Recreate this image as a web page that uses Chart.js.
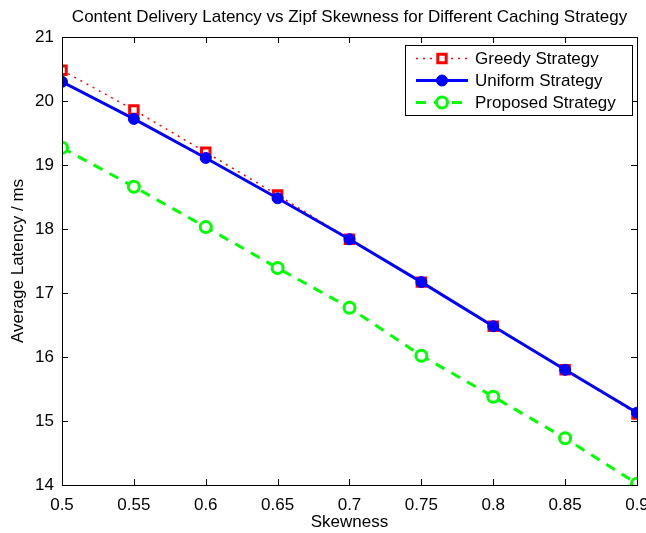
<!DOCTYPE html>
<html>
<head>
<meta charset="utf-8">
<script src="https://cdn.jsdelivr.net/npm/chart.js@4.4.1/dist/chart.umd.min.js"></script>
<style>
  html, body { margin: 0; padding: 0; background: #fff; }
  #wrap { width: 646px; height: 533px; }
</style>
</head>
<body>
<div id="wrap"><canvas id="myChart" width="646" height="533"></canvas></div>
<script>
const skewness = [0.5, 0.55, 0.6, 0.65, 0.7, 0.75, 0.8, 0.85, 0.9];
const greedy   = [20.48, 19.86, 19.20, 18.53, 17.84, 17.17, 16.48, 15.80, 15.11];
const uniform  = [20.30, 19.72, 19.11, 18.48, 17.84, 17.17, 16.48, 15.80, 15.13];
const proposed = [19.27, 18.66, 18.03, 17.39, 16.77, 16.02, 15.38, 14.73, 14.02];
const seriesNames = ['Greedy Strategy', 'Uniform Strategy', 'Proposed Strategy'];

const FONT = '"Liberation Sans", Arial, Helvetica, sans-serif';
const FSIZE = 17;

function pts(vals) {
    return vals.map((v, i) => ({ x: skewness[i], y: v }));
}

// matlab-ish frame with inward ticks on all four sides, plus the legend box
const framePlugin = {
    id: 'frame',
    afterDatasetsDraw(chart) {
        const { ctx, chartArea: a, scales } = chart;
        ctx.save();
        ctx.strokeStyle = '#000';
        ctx.lineWidth = 1;
        ctx.beginPath();
        scales.x.ticks.forEach(t => {
            const px = Math.round(scales.x.getPixelForValue(t.value)) + 0.5;
            ctx.moveTo(px, a.bottom); ctx.lineTo(px, a.bottom - 6);
            ctx.moveTo(px, a.top); ctx.lineTo(px, a.top + 6);
        });
        scales.y.ticks.forEach(t => {
            const py = Math.round(scales.y.getPixelForValue(t.value)) + 0.5;
            ctx.moveTo(a.left, py); ctx.lineTo(a.left + 6, py);
            ctx.moveTo(a.right, py); ctx.lineTo(a.right - 6, py);
        });
        ctx.stroke();
        ctx.strokeRect(Math.round(a.left) + 0.5, Math.round(a.top) + 0.5,
            Math.round(a.right - a.left), Math.round(a.bottom - a.top));

        // legend
        const bx = 405.5, by = 45.5, bw = 227, bh = 70;
        ctx.fillStyle = '#fff';
        ctx.fillRect(bx, by, bw, bh);
        ctx.strokeRect(bx, by, bw, bh);
        ctx.font = FSIZE + 'px ' + FONT;
        ctx.textBaseline = 'middle';
        chart.data.datasets.forEach((ds, i) => {
            const y = 58.5 + i * 22;
            ctx.save();
            ctx.strokeStyle = ds.borderColor;
            ctx.lineWidth = ds.borderWidth;
            ctx.setLineDash(ds.borderDash || []);
            ctx.beginPath();
            ctx.moveTo(416, y); ctx.lineTo(468, y);
            ctx.stroke();
            ctx.setLineDash([]);
            ctx.lineWidth = ds.pointBorderWidth;
            ctx.strokeStyle = ds.pointBorderColor;
            ctx.fillStyle = ds.pointBackgroundColor;
            ctx.beginPath();
            if (ds.pointStyle === 'rect') {
                const s = ds.pointRadius * 1.4;
                ctx.rect(442 - s / 2, y - s / 2, s, s);
            } else {
                ctx.arc(442, y, ds.pointRadius, 0, Math.PI * 2);
            }
            ctx.fill();
            ctx.stroke();
            ctx.restore();
            ctx.fillStyle = '#000';
            ctx.fillText(ds.label, 475, y + 1);
        });
        ctx.restore();
    }
};

new Chart(document.getElementById('myChart'), {
    type: 'line',
    data: {
        datasets: [{
            label: seriesNames[0],
            data: pts(greedy),
            borderColor: '#ff0000',
            borderWidth: 1.5,
            borderDash: [2, 5],
            pointStyle: 'rect',
            pointRadius: 6,
            pointBorderWidth: 3,
            pointBorderColor: '#ff0000',
            pointBackgroundColor: '#ffffff',
            order: 3
        }, {
            label: seriesNames[1],
            data: pts(uniform),
            borderColor: '#0000ff',
            borderWidth: 3,
            pointStyle: 'circle',
            pointRadius: 5.5,
            pointBorderWidth: 1,
            pointBorderColor: '#0000ff',
            pointBackgroundColor: '#0000ff',
            order: 2
        }, {
            label: seriesNames[2],
            data: pts(proposed),
            borderColor: '#00ff00',
            borderWidth: 3,
            borderDash: [10, 8],
            pointStyle: 'circle',
            pointRadius: 5.5,
            pointBorderWidth: 3,
            pointBorderColor: '#00ff00',
            pointBackgroundColor: '#ffffff',
            order: 1
        }]
    },
    options: {
        responsive: false,
        animation: false,
        layout: { padding: { left: 0, right: 8, top: 0, bottom: 0 } },
        plugins: {
            legend: { display: false },
            tooltip: { enabled: false },
            title: {
                display: true,
                fullSize: false,
                text: 'Content Delivery Latency vs Zipf Skewness for Different Caching Strategy',
                color: '#000',
                font: { family: FONT, size: FSIZE, weight: 'normal' },
                padding: { top: 7, bottom: 9.6 }
            }
        },
        scales: {
            x: {
                type: 'linear',
                min: 0.5,
                max: 0.9,
                ticks: {
                    stepSize: 0.05,
                    color: '#000',
                    padding: 10,
                    font: { family: FONT, size: FSIZE },
                    callback: v => parseFloat(v.toFixed(2)).toString()
                },
                grid: { display: false, drawTicks: false },
                border: { display: false },
                title: {
                    display: true,
                    text: 'Skewness',
                    color: '#000',
                    padding: { top: 0, bottom: 0 },
                    font: { family: FONT, size: FSIZE }
                },
                afterFit: s => { s.height = 48; s.paddingLeft = 0; s.paddingRight = 0; }
            },
            y: {
                min: 14,
                max: 21,
                ticks: {
                    stepSize: 1,
                    color: '#000',
                    padding: 8,
                    font: { family: FONT, size: FSIZE }
                },
                grid: { display: false, drawTicks: false },
                border: { display: false },
                title: {
                    display: true,
                    text: 'Average Latency / ms',
                    color: '#000',
                    padding: { top: 8, bottom: 0 },
                    font: { family: FONT, size: FSIZE }
                },
                afterFit: s => { s.width = 62; s.paddingTop = 0; s.paddingBottom = 0; }
            }
        }
    },
    plugins: [framePlugin]
});
</script>
</body>
</html>
